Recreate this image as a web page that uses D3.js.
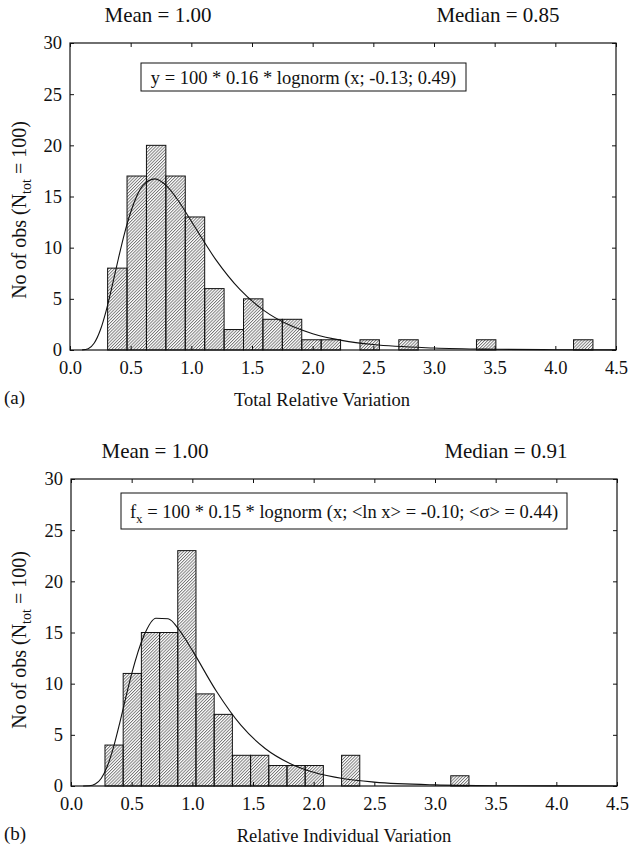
<!DOCTYPE html>
<html>
<head>
<meta charset="utf-8">
<script src="https://d3js.org/d3.v7.min.js"></script>
<style>
  body { margin: 0; background: #fff; }
  svg text { font-family: "Liberation Serif", "Times New Roman", serif; fill: #111; }
</style>
</head>
<body>
<script>

// ---- data ----
var xTicks = [0, 0.5, 1, 1.5, 2, 2.5, 3, 3.5, 4, 4.5];
var yTicks = [0, 5, 10, 15, 20, 25, 30];

// panel (a): bin lower edges (bin width 0.16) and counts
var binWidthA = 0.16;
var binStartA = [0.31, 0.47, 0.63, 0.79, 0.95, 1.11, 1.27, 1.43, 1.59, 1.75, 1.91, 2.07, 2.39, 2.71, 3.35, 4.15];
var countsA   = [8, 17, 20, 17, 13, 6, 2, 5, 3, 3, 1, 1, 1, 1, 1, 1];

// panel (b): bin lower edges (bin width 0.15) and counts
var binWidthB = 0.15;
var binStartB = [0.28, 0.43, 0.58, 0.73, 0.88, 1.03, 1.18, 1.33, 1.48, 1.63, 1.78, 1.93, 2.23, 3.13];
var countsB   = [4, 11, 15, 15, 23, 9, 7, 3, 3, 2, 2, 2, 3, 1];

// fitted curves, sampled
var curveX  = [0.1, 0.15, 0.2, 0.25, 0.3, 0.35, 0.4, 0.45, 0.5, 0.6, 0.7, 0.8, 0.9, 1.0, 1.2, 1.4, 1.6, 1.8, 2.0, 2.25, 2.5, 3.0, 3.5, 4.0, 4.5];
var curveYA = [0.01, 0.13, 0.68, 1.95, 3.93, 6.39, 8.99, 11.42, 13.46, 16.06, 16.72, 15.99, 14.46, 12.58, 8.86, 5.92, 3.85, 2.48, 1.59, 0.92, 0.53, 0.19, 0.07, 0.03, 0.01];
var curveYB = [0.0, 0.02, 0.19, 0.76, 1.95, 3.78, 6.08, 8.57, 10.96, 14.66, 16.39, 16.35, 15.11, 13.25, 9.23, 5.94, 3.67, 2.23, 1.34, 0.71, 0.38, 0.11, 0.03, 0.01, 0.0];

var svg = d3.select("body").append("svg")
    .attr("width", 630)
    .attr("height", 849);

// hatch pattern for the bars
var defs = svg.append("defs");
defs.append("pattern")
    .attr("id", "hatch")
    .attr("patternUnits", "userSpaceOnUse")
    .attr("width", 2.2)
    .attr("height", 2.2)
    .attr("patternTransform", "rotate(45)")
  .append("line")
    .attr("x1", 0.5).attr("y1", 0)
    .attr("x2", 0.5).attr("y2", 2.2)
    .attr("stroke", "#555")
    .attr("stroke-width", 0.75);

function panel(opt) {
  var x = d3.scaleLinear().domain([0, 4.5]).range([opt.left, opt.right]);
  var y = d3.scaleLinear().domain([0, 30]).range([opt.bottom, opt.top]);
  var g = svg.append("g");

  var bins = opt.starts.map(function(s, i) { return {x0: s, x1: s + opt.width, n: opt.counts[i]}; });

  g.selectAll("rect.bar")
    .data(bins).enter()
    .append("rect")
    .attr("class", "bar")
    .attr("x", function(d) { return x(d.x0); })
    .attr("y", function(d) { return y(d.n); })
    .attr("width", function(d) { return x(d.x1) - x(d.x0); })
    .attr("height", function(d) { return y(0) - y(d.n); })
    .attr("fill", "url(#hatch)")
    .attr("stroke", "#111")
    .attr("stroke-width", 1);

  var pts = opt.cx.map(function(v, i) { return [v, opt.cy[i]]; });
  g.append("path")
    .datum(pts)
    .attr("fill", "none")
    .attr("stroke", "#111")
    .attr("stroke-width", 1.1)
    .attr("d", d3.line()
      .x(function(d) { return x(d[0]); })
      .y(function(d) { return y(d[1]); })
      .curve(d3.curveMonotoneX));

  // axes, ticks pointing inwards
  var fmt = d3.format(".1f");
  g.append("g")
    .attr("transform", "translate(0," + opt.bottom + ")")
    .call(d3.axisBottom(x).tickValues(xTicks).tickFormat(fmt).tickSizeInner(-4).tickSizeOuter(0).tickPadding(11))
    .call(styleAxis);
  g.append("g")
    .attr("transform", "translate(" + opt.left + ",0)")
    .call(d3.axisLeft(y).tickValues(yTicks).tickSizeInner(-4).tickSizeOuter(0).tickPadding(8))
    .call(styleAxis);
  g.append("g")
    .attr("transform", "translate(0," + opt.top + ")")
    .call(d3.axisTop(x).tickValues(xTicks).tickFormat("").tickSizeInner(-4).tickSizeOuter(0))
    .call(styleAxis);
  g.append("g")
    .attr("transform", "translate(" + opt.right + ",0)")
    .call(d3.axisRight(y).tickValues(yTicks).tickFormat("").tickSizeInner(-4).tickSizeOuter(0))
    .call(styleAxis);

  g.append("rect")
    .attr("x", opt.left).attr("y", opt.top)
    .attr("width", opt.right - opt.left)
    .attr("height", opt.bottom - opt.top)
    .attr("fill", "none")
    .attr("stroke", "#111")
    .attr("stroke-width", 1.2);

  // fit formula box
  g.append("rect")
    .attr("x", opt.box[0]).attr("y", opt.box[1])
    .attr("width", opt.box[2]).attr("height", opt.box[3])
    .attr("fill", "#fff")
    .attr("stroke", "#111")
    .attr("stroke-width", 1);
  var ft = g.append("text")
    .attr("x", opt.box[0] + opt.box[2] / 2)
    .attr("y", opt.box[1] + opt.box[3] / 2 + 6.5)
    .attr("text-anchor", "middle")
    .style("font-size", "18.5px");
  opt.formula(ft);

  // mean / median
  g.append("text").attr("x", opt.meanX).attr("y", opt.top - 21)
    .attr("text-anchor", "middle").style("font-size", "21px").text(opt.mean);
  g.append("text").attr("x", opt.medX).attr("y", opt.top - 21)
    .attr("text-anchor", "middle").style("font-size", "21px").text(opt.median);

  // y label with subscript
  var yl = g.append("text")
    .attr("transform", "translate(26," + opt.ylabY + ") rotate(-90)")
    .attr("text-anchor", "middle")
    .style("font-size", "20px");
  yl.append("tspan").text("No of obs (N");
  yl.append("tspan").attr("dy", 5).style("font-size", "14px").text("tot");
  yl.append("tspan").attr("dy", -5).text(" = 100)");

  // x label and panel letter
  g.append("text").attr("x", opt.xlabX).attr("y", opt.bottom + 56)
    .attr("text-anchor", "middle").style("font-size", "18.5px").text(opt.xlabel);
  g.append("text").attr("x", 4).attr("y", opt.bottom + 54)
    .style("font-size", "19px").text(opt.letter);
}

function styleAxis(sel) {
  sel.select(".domain").remove();
  sel.selectAll(".tick line").attr("stroke", "#111");
  sel.selectAll(".tick text")
    .style("font-family", "'Liberation Serif', 'Times New Roman', serif")
    .style("font-size", "18.5px")
    .attr("fill", "#111");
}

panel({
  left: 70, right: 616, top: 43, bottom: 350,
  starts: binStartA, counts: countsA, width: binWidthA,
  cx: curveX, cy: curveYA,
  box: [141, 63, 325, 28],
  formula: function(t) { t.text("y = 100 * 0.16 * lognorm (x; -0.13; 0.49)"); },
  mean: "Mean = 1.00", meanX: 158,
  median: "Median = 0.85", medX: 498,
  ylabY: 210,
  xlabel: "Total Relative Variation", xlabX: 322,
  letter: "(a)"
});

panel({
  left: 71, right: 617, top: 479, bottom: 786,
  starts: binStartB, counts: countsB, width: binWidthB,
  cx: curveX, cy: curveYB,
  box: [121, 493, 446, 36],
  formula: function(t) {
    t.append("tspan").text("f");
    t.append("tspan").attr("dy", 5).style("font-size", "13px").text("x");
    t.append("tspan").attr("dy", -5).text(" = 100 * 0.15 * lognorm (x; <ln x> = -0.10; <σ> = 0.44)");
  },
  mean: "Mean = 1.00", meanX: 155,
  median: "Median = 0.91", medX: 506,
  ylabY: 640,
  xlabel: "Relative Individual Variation", xlabX: 344,
  letter: "(b)"
});

</script>
</body>
</html>
